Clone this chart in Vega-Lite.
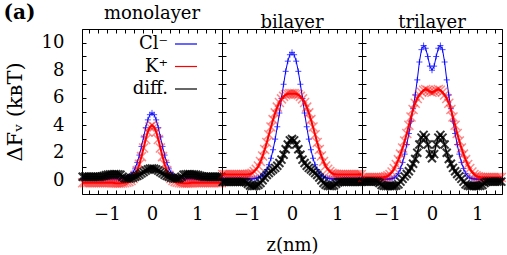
{
  "$schema": "https://vega.github.io/schema/vega-lite/v6.json",
  "padding": {"left": 3, "right": 5, "top": 2, "bottom": 1},
  "title": {"text": "(a)", "anchor": "start", "frame": "bounds", "fontSize": 20, "fontWeight": "bold", "font": "DejaVu Serif", "offset": -18},
  "spacing": 0,
  "bounds": "flush",
  "datasets": {
    "mono": [
      {"z":-1.535,"cl":0.1,"k":-0.18,"diff":0.25},{"z":-1.488,"cl":0.1,"k":-0.18,"diff":0.25},{"z":-1.442,"cl":0.1,"k":-0.18,"diff":0.25},{"z":-1.395,"cl":0.1,"k":-0.18,"diff":0.25},{"z":-1.349,"cl":0.1,"k":-0.18,"diff":0.25},{"z":-1.302,"cl":0.1,"k":-0.18,"diff":0.25},{"z":-1.256,"cl":0.1,"k":-0.18,"diff":0.25},{"z":-1.209,"cl":0.1,"k":-0.18,"diff":0.25},{"z":-1.163,"cl":0.1,"k":-0.18,"diff":0.25},{"z":-1.116,"cl":0.1,"k":-0.18,"diff":0.28},{"z":-1.07,"cl":0.1,"k":-0.18,"diff":0.32},{"z":-1.023,"cl":0.1,"k":-0.18,"diff":0.36},{"z":-0.977,"cl":0.1,"k":-0.18,"diff":0.4},{"z":-0.93,"cl":0.1,"k":-0.18,"diff":0.42},{"z":-0.884,"cl":0.1,"k":-0.19,"diff":0.43},{"z":-0.837,"cl":0.1,"k":-0.2,"diff":0.44},{"z":-0.791,"cl":0.1,"k":-0.21,"diff":0.44},{"z":-0.744,"cl":0.1,"k":-0.22,"diff":0.43},{"z":-0.698,"cl":0.11,"k":-0.22,"diff":0.4},{"z":-0.651,"cl":0.12,"k":-0.2,"diff":0.25},{"z":-0.605,"cl":0.14,"k":-0.18,"diff":0.14},{"z":-0.558,"cl":0.18,"k":-0.15,"diff":0.12},{"z":-0.512,"cl":0.26,"k":-0.1,"diff":0.12},{"z":-0.465,"cl":0.38,"k":-0.02,"diff":0.15},{"z":-0.419,"cl":0.58,"k":0.13,"diff":0.2},{"z":-0.372,"cl":0.88,"k":0.37,"diff":0.25},{"z":-0.326,"cl":1.3,"k":0.71,"diff":0.32},{"z":-0.279,"cl":1.83,"k":1.16,"diff":0.4},{"z":-0.233,"cl":2.46,"k":1.72,"diff":0.5},{"z":-0.186,"cl":3.15,"k":2.35,"diff":0.6},{"z":-0.14,"cl":3.82,"k":2.97,"diff":0.7},{"z":-0.093,"cl":4.39,"k":3.51,"diff":0.78},{"z":-0.047,"cl":4.77,"k":3.87,"diff":0.84},
      {"z":0,"cl":4.9,"k":4.0,"diff":0.85},
      {"z":0.047,"cl":4.77,"k":3.87,"diff":0.84},{"z":0.093,"cl":4.39,"k":3.51,"diff":0.78},{"z":0.14,"cl":3.82,"k":2.97,"diff":0.7},{"z":0.186,"cl":3.15,"k":2.35,"diff":0.6},{"z":0.233,"cl":2.46,"k":1.72,"diff":0.5},{"z":0.279,"cl":1.83,"k":1.16,"diff":0.4},{"z":0.326,"cl":1.3,"k":0.71,"diff":0.32},{"z":0.372,"cl":0.88,"k":0.37,"diff":0.25},{"z":0.419,"cl":0.58,"k":0.13,"diff":0.2},{"z":0.465,"cl":0.38,"k":-0.02,"diff":0.15},{"z":0.512,"cl":0.26,"k":-0.1,"diff":0.12},{"z":0.558,"cl":0.18,"k":-0.15,"diff":0.12},{"z":0.605,"cl":0.14,"k":-0.18,"diff":0.14},{"z":0.651,"cl":0.12,"k":-0.2,"diff":0.25},{"z":0.698,"cl":0.11,"k":-0.22,"diff":0.4},{"z":0.744,"cl":0.1,"k":-0.22,"diff":0.43},{"z":0.791,"cl":0.1,"k":-0.21,"diff":0.44},{"z":0.837,"cl":0.1,"k":-0.2,"diff":0.44},{"z":0.884,"cl":0.1,"k":-0.19,"diff":0.43},{"z":0.93,"cl":0.1,"k":-0.18,"diff":0.42},{"z":0.977,"cl":0.1,"k":-0.18,"diff":0.4},{"z":1.023,"cl":0.1,"k":-0.18,"diff":0.36},{"z":1.07,"cl":0.1,"k":-0.18,"diff":0.32},{"z":1.116,"cl":0.1,"k":-0.18,"diff":0.28},{"z":1.163,"cl":0.1,"k":-0.18,"diff":0.25},{"z":1.209,"cl":0.1,"k":-0.18,"diff":0.25},{"z":1.256,"cl":0.1,"k":-0.18,"diff":0.25},{"z":1.302,"cl":0.1,"k":-0.18,"diff":0.25},{"z":1.349,"cl":0.1,"k":-0.18,"diff":0.25},{"z":1.395,"cl":0.1,"k":-0.18,"diff":0.25},{"z":1.442,"cl":0.1,"k":-0.18,"diff":0.25},{"z":1.488,"cl":0.1,"k":-0.18,"diff":0.25},{"z":1.535,"cl":0.1,"k":-0.18,"diff":0.25}
    ],
    "bi": [
      {"z":-1.535,"cl":0.1,"k":0.42,"diff":-0.12},{"z":-1.488,"cl":0.1,"k":0.42,"diff":-0.12},{"z":-1.442,"cl":0.1,"k":0.42,"diff":-0.12},{"z":-1.395,"cl":0.1,"k":0.42,"diff":-0.12},{"z":-1.349,"cl":0.1,"k":0.42,"diff":-0.12},{"z":-1.302,"cl":0.1,"k":0.42,"diff":-0.12},{"z":-1.256,"cl":0.1,"k":0.42,"diff":-0.12},{"z":-1.209,"cl":0.1,"k":0.42,"diff":-0.12},{"z":-1.163,"cl":0.1,"k":0.42,"diff":-0.12},{"z":-1.116,"cl":0.1,"k":0.42,"diff":-0.12},{"z":-1.07,"cl":0.1,"k":0.42,"diff":-0.12},{"z":-1.023,"cl":0.1,"k":0.42,"diff":-0.15},{"z":-0.977,"cl":0.1,"k":0.43,"diff":-0.25},{"z":-0.93,"cl":0.1,"k":0.46,"diff":-0.38},{"z":-0.884,"cl":0.1,"k":0.51,"diff":-0.42},{"z":-0.837,"cl":0.12,"k":0.63,"diff":-0.42},{"z":-0.791,"cl":0.15,"k":0.8,"diff":-0.4},{"z":-0.744,"cl":0.19,"k":1.04,"diff":-0.33},{"z":-0.698,"cl":0.26,"k":1.36,"diff":-0.2},{"z":-0.651,"cl":0.36,"k":1.76,"diff":0.0},{"z":-0.605,"cl":0.53,"k":2.23,"diff":0.2},{"z":-0.558,"cl":0.78,"k":2.75,"diff":0.38},{"z":-0.512,"cl":1.13,"k":3.31,"diff":0.52},{"z":-0.465,"cl":1.6,"k":3.87,"diff":0.65},{"z":-0.419,"cl":2.22,"k":4.41,"diff":0.78},{"z":-0.372,"cl":2.99,"k":4.9,"diff":0.9},{"z":-0.326,"cl":3.89,"k":5.32,"diff":1.05},{"z":-0.279,"cl":4.89,"k":5.66,"diff":1.25},{"z":-0.233,"cl":5.95,"k":5.92,"diff":1.5},{"z":-0.186,"cl":6.98,"k":6.1,"diff":1.85},{"z":-0.14,"cl":7.92,"k":6.22,"diff":2.25},{"z":-0.093,"cl":8.66,"k":6.27,"diff":2.6},{"z":-0.047,"cl":9.13,"k":6.3,"diff":2.9},
      {"z":0,"cl":9.3,"k":6.3,"diff":3.0},
      {"z":0.047,"cl":9.13,"k":6.3,"diff":2.9},{"z":0.093,"cl":8.66,"k":6.27,"diff":2.6},{"z":0.14,"cl":7.92,"k":6.22,"diff":2.25},{"z":0.186,"cl":6.98,"k":6.1,"diff":1.85},{"z":0.233,"cl":5.95,"k":5.92,"diff":1.5},{"z":0.279,"cl":4.89,"k":5.66,"diff":1.25},{"z":0.326,"cl":3.89,"k":5.32,"diff":1.05},{"z":0.372,"cl":2.99,"k":4.9,"diff":0.9},{"z":0.419,"cl":2.22,"k":4.41,"diff":0.78},{"z":0.465,"cl":1.6,"k":3.87,"diff":0.65},{"z":0.512,"cl":1.13,"k":3.31,"diff":0.52},{"z":0.558,"cl":0.78,"k":2.75,"diff":0.38},{"z":0.605,"cl":0.53,"k":2.23,"diff":0.2},{"z":0.651,"cl":0.36,"k":1.76,"diff":0.0},{"z":0.698,"cl":0.26,"k":1.36,"diff":-0.2},{"z":0.744,"cl":0.19,"k":1.04,"diff":-0.33},{"z":0.791,"cl":0.15,"k":0.8,"diff":-0.4},{"z":0.837,"cl":0.12,"k":0.63,"diff":-0.42},{"z":0.884,"cl":0.1,"k":0.51,"diff":-0.42},{"z":0.93,"cl":0.1,"k":0.46,"diff":-0.38},{"z":0.977,"cl":0.1,"k":0.43,"diff":-0.25},{"z":1.023,"cl":0.1,"k":0.42,"diff":-0.15},{"z":1.07,"cl":0.1,"k":0.42,"diff":-0.12},{"z":1.116,"cl":0.1,"k":0.42,"diff":-0.12},{"z":1.163,"cl":0.1,"k":0.42,"diff":-0.12},{"z":1.209,"cl":0.1,"k":0.42,"diff":-0.12},{"z":1.256,"cl":0.1,"k":0.42,"diff":-0.12},{"z":1.302,"cl":0.1,"k":0.42,"diff":-0.12},{"z":1.349,"cl":0.1,"k":0.42,"diff":-0.12},{"z":1.395,"cl":0.1,"k":0.42,"diff":-0.12},{"z":1.442,"cl":0.1,"k":0.42,"diff":-0.12},{"z":1.488,"cl":0.1,"k":0.42,"diff":-0.12},{"z":1.535,"cl":0.1,"k":0.42,"diff":-0.12}
    ],
    "tri": [
      {"z":-1.535,"cl":0.08,"k":0.2,"diff":-0.1},{"z":-1.488,"cl":0.08,"k":0.2,"diff":-0.1},{"z":-1.442,"cl":0.08,"k":0.2,"diff":-0.1},{"z":-1.395,"cl":0.08,"k":0.2,"diff":-0.1},{"z":-1.349,"cl":0.08,"k":0.2,"diff":-0.1},{"z":-1.302,"cl":0.08,"k":0.2,"diff":-0.1},{"z":-1.256,"cl":0.08,"k":0.2,"diff":-0.1},{"z":-1.209,"cl":0.08,"k":0.2,"diff":-0.12},{"z":-1.163,"cl":0.08,"k":0.2,"diff":-0.2},{"z":-1.116,"cl":0.08,"k":0.2,"diff":-0.35},{"z":-1.07,"cl":0.08,"k":0.22,"diff":-0.4},{"z":-1.023,"cl":0.08,"k":0.26,"diff":-0.42},{"z":-0.977,"cl":0.08,"k":0.32,"diff":-0.42},{"z":-0.93,"cl":0.1,"k":0.42,"diff":-0.42},{"z":-0.884,"cl":0.12,"k":0.6,"diff":-0.42},{"z":-0.837,"cl":0.18,"k":0.85,"diff":-0.42},{"z":-0.791,"cl":0.3,"k":1.15,"diff":-0.38},{"z":-0.744,"cl":0.5,"k":1.5,"diff":-0.3},{"z":-0.698,"cl":0.85,"k":1.9,"diff":-0.1},{"z":-0.651,"cl":1.3,"k":2.35,"diff":0.1},{"z":-0.605,"cl":1.9,"k":2.85,"diff":0.28},{"z":-0.558,"cl":2.6,"k":3.4,"diff":0.45},{"z":-0.512,"cl":3.4,"k":4.0,"diff":0.65},{"z":-0.465,"cl":4.3,"k":4.6,"diff":0.9},{"z":-0.419,"cl":5.2,"k":5.15,"diff":1.2},{"z":-0.372,"cl":6.2,"k":5.6,"diff":1.55},{"z":-0.326,"cl":7.3,"k":5.95,"diff":2.0},{"z":-0.279,"cl":8.6,"k":6.2,"diff":2.6},{"z":-0.233,"cl":9.5,"k":6.4,"diff":3.1},{"z":-0.186,"cl":9.8,"k":6.55,"diff":3.3},{"z":-0.14,"cl":9.6,"k":6.6,"diff":3.1},{"z":-0.093,"cl":9.0,"k":6.55,"diff":2.6},{"z":-0.047,"cl":8.3,"k":6.45,"diff":1.9},
      {"z":0,"cl":8.0,"k":6.4,"diff":1.6},
      {"z":0.047,"cl":8.3,"k":6.45,"diff":1.9},{"z":0.093,"cl":9.0,"k":6.55,"diff":2.6},{"z":0.14,"cl":9.6,"k":6.6,"diff":3.1},{"z":0.186,"cl":9.8,"k":6.55,"diff":3.3},{"z":0.233,"cl":9.5,"k":6.4,"diff":3.1},{"z":0.279,"cl":8.6,"k":6.2,"diff":2.6},{"z":0.326,"cl":7.3,"k":5.95,"diff":2.0},{"z":0.372,"cl":6.2,"k":5.6,"diff":1.55},{"z":0.419,"cl":5.2,"k":5.15,"diff":1.2},{"z":0.465,"cl":4.3,"k":4.6,"diff":0.9},{"z":0.512,"cl":3.4,"k":4.0,"diff":0.65},{"z":0.558,"cl":2.6,"k":3.4,"diff":0.45},{"z":0.605,"cl":1.9,"k":2.85,"diff":0.28},{"z":0.651,"cl":1.3,"k":2.35,"diff":0.1},{"z":0.698,"cl":0.85,"k":1.9,"diff":-0.1},{"z":0.744,"cl":0.5,"k":1.5,"diff":-0.3},{"z":0.791,"cl":0.3,"k":1.15,"diff":-0.38},{"z":0.837,"cl":0.18,"k":0.85,"diff":-0.42},{"z":0.884,"cl":0.12,"k":0.6,"diff":-0.42},{"z":0.93,"cl":0.1,"k":0.42,"diff":-0.42},{"z":0.977,"cl":0.08,"k":0.32,"diff":-0.42},{"z":1.023,"cl":0.08,"k":0.26,"diff":-0.42},{"z":1.07,"cl":0.08,"k":0.22,"diff":-0.4},{"z":1.116,"cl":0.08,"k":0.2,"diff":-0.35},{"z":1.163,"cl":0.08,"k":0.2,"diff":-0.2},{"z":1.209,"cl":0.08,"k":0.2,"diff":-0.12},{"z":1.256,"cl":0.08,"k":0.2,"diff":-0.1},{"z":1.302,"cl":0.08,"k":0.2,"diff":-0.1},{"z":1.349,"cl":0.08,"k":0.2,"diff":-0.1},{"z":1.395,"cl":0.08,"k":0.2,"diff":-0.1},{"z":1.442,"cl":0.08,"k":0.2,"diff":-0.1},{"z":1.488,"cl":0.08,"k":0.2,"diff":-0.1},{"z":1.535,"cl":0.08,"k":0.2,"diff":-0.1}
    ]
  },
  "hconcat": [
    {
      "width": 140, "height": 165, "title": "monolayer",
      "data": {"name": "mono"},
      "layer": [
        {"mark": {"type": "line", "strokeWidth": 1},
         "encoding": {
           "x": {"field": "z", "type": "quantitative", "scale": {"domain": [-1.55, 1.55], "nice": false, "zero": false},
                 "axis": {"orient": "bottom", "values": [-1.4,-1.2,-1,-0.8,-0.6,-0.4,-0.2,0,0.2,0.4,0.6,0.8,1,1.2,1.4], "labelExpr": "datum.value % 1 === 0 ? format(datum.value, 'd') : ''", "title": null}},
           "y": {"field": "cl", "type": "quantitative", "scale": {"domain": [-1, 11], "nice": false, "zero": false},
                 "axis": {"orient": "left", "values": [-1,0,1,2,3,4,5,6,7,8,9,10,11], "labelExpr": "datum.value % 2 === 0 ? format(datum.value, 'd') : ''", "title": "ΔFᵥ (kʙT)", "titleFontSize": 21, "titlePadding": 16, "labelPadding": 22}},
           "color": {"datum": "Cl⁻",
                     "scale": {"domain": ["Cl⁻", "K⁺", "diff."], "range": ["#0000ff", "#ff0000", "#000000"]},
                     "legend": {"orient": "none", "legendX": 92, "legendY": 3, "title": null, "symbolType": "stroke", "symbolSize": 484, "symbolStrokeWidth": 1.2, "labelAlign": "right", "labelOffset": -30, "labelFontSize": 18, "labelFont": "DejaVu Serif", "labelColor": "#000", "rowPadding": 1.5, "labelLimit": 0}}
         }},
        {"mark": {"type": "point", "shape": "M-1,0H1M0,-1V1", "filled": false, "color": "#0000ff", "size": 36, "strokeWidth": 1},
         "encoding": {
           "x": {"field": "z", "type": "quantitative", "scale": {"domain": [-1.55, 1.55], "nice": false, "zero": false},
                 "axis": {"orient": "top", "values": [-1.4,-1.2,-1,-0.8,-0.6,-0.4,-0.2,0,0.2,0.4,0.6,0.8,1,1.2,1.4], "labels": false, "title": null, "labelPadding": 0, "minExtent": 0, "maxExtent": 0}},
           "y": {"field": "cl", "type": "quantitative", "scale": {"domain": [-1, 11], "nice": false, "zero": false},
                 "axis": {"orient": "right", "values": [-1,0,1,2,3,4,5,6,7,8,9,10,11], "labels": false, "title": null, "labelPadding": 0, "minExtent": 0, "maxExtent": 0}}
         }},
        {"mark": {"type": "line", "strokeWidth": 2},
         "encoding": {
           "x": {"field": "z", "type": "quantitative", "scale": {"domain": [-1.55, 1.55]}, "axis": null},
           "y": {"field": "k", "type": "quantitative", "scale": {"domain": [-1, 11]}, "axis": null},
           "color": {"datum": "K⁺"}
         }},
        {"mark": {"type": "point", "shape": "M-1,-1L1,1M-1,1L1,-1", "filled": false, "color": "#ff0000", "opacity": 0.45, "size": 81, "strokeWidth": 1.5},
         "encoding": {
           "x": {"field": "z", "type": "quantitative", "scale": {"domain": [-1.55, 1.55]}, "axis": null},
           "y": {"field": "k", "type": "quantitative", "scale": {"domain": [-1, 11]}, "axis": null}
         }},
        {"mark": {"type": "line", "strokeWidth": 1.5},
         "encoding": {
           "x": {"field": "z", "type": "quantitative", "scale": {"domain": [-1.55, 1.55]}, "axis": null},
           "y": {"field": "diff", "type": "quantitative", "scale": {"domain": [-1, 11]}, "axis": null},
           "color": {"datum": "diff."}
         }},
        {"mark": {"type": "point", "shape": "M-1,-1L1,1M-1,1L1,-1", "filled": false, "color": "#000000", "opacity": 0.8, "size": 64, "strokeWidth": 2},
         "encoding": {
           "x": {"field": "z", "type": "quantitative", "scale": {"domain": [-1.55, 1.55]}, "axis": null},
           "y": {"field": "diff", "type": "quantitative", "scale": {"domain": [-1, 11]}, "axis": null}
         }}
      ],
      "resolve": {"axis": {"x": "independent", "y": "independent"}}
    },
    {
      "width": 140, "height": 165, "title": "bilayer",
      "data": {"name": "bi"},
      "layer": [
        {"mark": {"type": "line", "strokeWidth": 1, "color": "#0000ff"},
         "encoding": {
           "x": {"field": "z", "type": "quantitative", "scale": {"domain": [-1.55, 1.55], "nice": false, "zero": false},
                 "axis": {"orient": "bottom", "values": [-1.4,-1.2,-1,-0.8,-0.6,-0.4,-0.2,0,0.2,0.4,0.6,0.8,1,1.2,1.4], "labelExpr": "datum.value % 1 === 0 ? format(datum.value, 'd') : ''", "title": "z(nm)"}},
           "y": {"field": "cl", "type": "quantitative", "scale": {"domain": [-1, 11], "nice": false, "zero": false},
                 "axis": {"orient": "left", "values": [-1,0,1,2,3,4,5,6,7,8,9,10,11], "labels": false, "title": null, "labelPadding": 0, "minExtent": 0, "maxExtent": 0}}
         }},
        {"mark": {"type": "point", "shape": "M-1,0H1M0,-1V1", "filled": false, "color": "#0000ff", "size": 36, "strokeWidth": 1},
         "encoding": {
           "x": {"field": "z", "type": "quantitative", "scale": {"domain": [-1.55, 1.55], "nice": false, "zero": false},
                 "axis": {"orient": "top", "values": [-1.4,-1.2,-1,-0.8,-0.6,-0.4,-0.2,0,0.2,0.4,0.6,0.8,1,1.2,1.4], "labels": false, "title": null, "labelPadding": 0, "minExtent": 0, "maxExtent": 0}},
           "y": {"field": "cl", "type": "quantitative", "scale": {"domain": [-1, 11], "nice": false, "zero": false},
                 "axis": {"orient": "right", "values": [-1,0,1,2,3,4,5,6,7,8,9,10,11], "labels": false, "title": null, "labelPadding": 0, "minExtent": 0, "maxExtent": 0}}
         }},
        {"mark": {"type": "line", "strokeWidth": 2, "color": "#ff0000"},
         "encoding": {
           "x": {"field": "z", "type": "quantitative", "scale": {"domain": [-1.55, 1.55]}, "axis": null},
           "y": {"field": "k", "type": "quantitative", "scale": {"domain": [-1, 11]}, "axis": null}
         }},
        {"mark": {"type": "point", "shape": "M-1,-1L1,1M-1,1L1,-1", "filled": false, "color": "#ff0000", "opacity": 0.45, "size": 81, "strokeWidth": 1.5},
         "encoding": {
           "x": {"field": "z", "type": "quantitative", "scale": {"domain": [-1.55, 1.55]}, "axis": null},
           "y": {"field": "k", "type": "quantitative", "scale": {"domain": [-1, 11]}, "axis": null}
         }},
        {"mark": {"type": "line", "strokeWidth": 1.5, "color": "#000000"},
         "encoding": {
           "x": {"field": "z", "type": "quantitative", "scale": {"domain": [-1.55, 1.55]}, "axis": null},
           "y": {"field": "diff", "type": "quantitative", "scale": {"domain": [-1, 11]}, "axis": null}
         }},
        {"mark": {"type": "point", "shape": "M-1,-1L1,1M-1,1L1,-1", "filled": false, "color": "#000000", "opacity": 0.8, "size": 64, "strokeWidth": 2},
         "encoding": {
           "x": {"field": "z", "type": "quantitative", "scale": {"domain": [-1.55, 1.55]}, "axis": null},
           "y": {"field": "diff", "type": "quantitative", "scale": {"domain": [-1, 11]}, "axis": null}
         }}
      ],
      "resolve": {"axis": {"x": "independent", "y": "independent"}}
    },
    {
      "width": 140, "height": 165, "title": "trilayer",
      "data": {"name": "tri"},
      "layer": [
        {"mark": {"type": "line", "strokeWidth": 1, "color": "#0000ff"},
         "encoding": {
           "x": {"field": "z", "type": "quantitative", "scale": {"domain": [-1.55, 1.55], "nice": false, "zero": false},
                 "axis": {"orient": "bottom", "values": [-1.4,-1.2,-1,-0.8,-0.6,-0.4,-0.2,0,0.2,0.4,0.6,0.8,1,1.2,1.4], "labelExpr": "datum.value % 1 === 0 ? format(datum.value, 'd') : ''", "title": null}},
           "y": {"field": "cl", "type": "quantitative", "scale": {"domain": [-1, 11], "nice": false, "zero": false},
                 "axis": {"orient": "left", "values": [-1,0,1,2,3,4,5,6,7,8,9,10,11], "labels": false, "title": null, "labelPadding": 0, "minExtent": 0, "maxExtent": 0}}
         }},
        {"mark": {"type": "point", "shape": "M-1,0H1M0,-1V1", "filled": false, "color": "#0000ff", "size": 36, "strokeWidth": 1},
         "encoding": {
           "x": {"field": "z", "type": "quantitative", "scale": {"domain": [-1.55, 1.55], "nice": false, "zero": false},
                 "axis": {"orient": "top", "values": [-1.4,-1.2,-1,-0.8,-0.6,-0.4,-0.2,0,0.2,0.4,0.6,0.8,1,1.2,1.4], "labels": false, "title": null, "labelPadding": 0, "minExtent": 0, "maxExtent": 0}},
           "y": {"field": "cl", "type": "quantitative", "scale": {"domain": [-1, 11], "nice": false, "zero": false},
                 "axis": {"orient": "right", "values": [-1,0,1,2,3,4,5,6,7,8,9,10,11], "labels": false, "title": null, "labelPadding": 0, "minExtent": 0, "maxExtent": 0}}
         }},
        {"mark": {"type": "line", "strokeWidth": 2, "color": "#ff0000"},
         "encoding": {
           "x": {"field": "z", "type": "quantitative", "scale": {"domain": [-1.55, 1.55]}, "axis": null},
           "y": {"field": "k", "type": "quantitative", "scale": {"domain": [-1, 11]}, "axis": null}
         }},
        {"mark": {"type": "point", "shape": "M-1,-1L1,1M-1,1L1,-1", "filled": false, "color": "#ff0000", "opacity": 0.45, "size": 81, "strokeWidth": 1.5},
         "encoding": {
           "x": {"field": "z", "type": "quantitative", "scale": {"domain": [-1.55, 1.55]}, "axis": null},
           "y": {"field": "k", "type": "quantitative", "scale": {"domain": [-1, 11]}, "axis": null}
         }},
        {"mark": {"type": "line", "strokeWidth": 1.5, "color": "#000000"},
         "encoding": {
           "x": {"field": "z", "type": "quantitative", "scale": {"domain": [-1.55, 1.55]}, "axis": null},
           "y": {"field": "diff", "type": "quantitative", "scale": {"domain": [-1, 11]}, "axis": null}
         }},
        {"mark": {"type": "point", "shape": "M-1,-1L1,1M-1,1L1,-1", "filled": false, "color": "#000000", "opacity": 0.8, "size": 64, "strokeWidth": 2},
         "encoding": {
           "x": {"field": "z", "type": "quantitative", "scale": {"domain": [-1.55, 1.55]}, "axis": null},
           "y": {"field": "diff", "type": "quantitative", "scale": {"domain": [-1, 11]}, "axis": null}
         }}
      ],
      "resolve": {"axis": {"x": "independent", "y": "independent"}}
    }
  ],
  "config": {
    "font": "DejaVu Serif",
    "view": {"stroke": "#000000", "strokeWidth": 1},
    "axis": {"domain": false, "grid": false, "tickColor": "#000000", "tickSize": -4, "labelOverlap": false, "labelFlush": false,
             "labelFont": "DejaVu Serif", "labelFontSize": 18, "labelColor": "#000000",
             "titleFont": "DejaVu Serif", "titleFontSize": 18, "titleFontWeight": "normal", "titleColor": "#000000", "titlePadding": 13},
    "axisX": {"labelPadding": 15},
    "axisY": {"labelPadding": 22, "minExtent": 0},
    "title": {"font": "DejaVu Serif", "fontSize": 18, "fontWeight": "normal", "color": "#000000", "offset": -3}
  }
}
